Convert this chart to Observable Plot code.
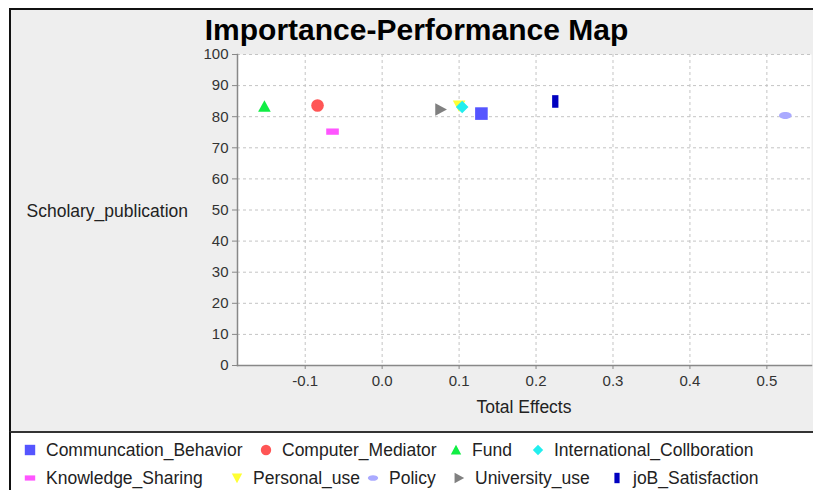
<!DOCTYPE html>
<html>
<head>
<meta charset="utf-8">
<script src="https://cdn.jsdelivr.net/npm/d3@7"></script>
<script src="https://cdn.jsdelivr.net/npm/@observablehq/plot@0.6"></script>
<style>
  html, body { margin: 0; padding: 0; background: #ffffff; overflow: hidden; width: 813px; height: 490px; }
  body { position: relative; font-family: "Liberation Sans", Arial, sans-serif; }
  #frame { position: absolute; left: 9px; top: 8px; width: 830px; height: 500px; background: #eeeeee;
           border-left: 2px solid #111; border-top: 2px solid #111; }
  #title { position: absolute; left: 0; width: 833px; top: 15px; text-align: center; font-size: 30px;
           font-weight: bold; line-height: 30px; color: #000; }
  #chart { position: absolute; left: 0; top: 0; }
  #ylabel { position: absolute; right: 625px; top: 201px; font-size: 17.5px; line-height: 20px; color: #222; white-space: nowrap; }
  #xlabel { position: absolute; left: 237px; width: 574px; top: 397px; text-align: center; font-size: 17.5px; line-height: 20px; color: #222; }
  #legend { position: absolute; left: 9px; top: 431px; width: 830px; height: 70px; background: #fff;
            border-left: 2px solid #111; border-top: 2px solid #333; }
  .item { position: absolute; display: flex; align-items: center; white-space: nowrap; font-size: 17.5px; color: #222; line-height: 20px; }
  .item svg { margin-right: 10px; }
</style>
</head>
<body>
<div id="frame"></div>
<div id="title">Importance-Performance Map</div>
<div id="chart"></div>
<div id="ylabel">Scholary_publication</div>
<div id="xlabel">Total Effects</div>
<div id="legend"></div>
<script>
// ---- data ----
const seriesNames = ["Communcation_Behavior", "Computer_Mediator", "Fund", "International_Collboration",
  "Knowledge_Sharing", "Personal_use", "Policy", "University_use", "joB_Satisfaction"];
const totalEffects = [0.129, -0.084, -0.153, 0.104, -0.0645, 0.100, 0.524, 0.076, 0.225];
const performance = [81.0, 83.6, 83.3, 83.1, 75.2, 83.5, 80.4, 82.3, 84.9];
const seriesColors = ["#5555ff", "#ff5555", "#11ee44", "#22eeee", "#ff55ff", "#ffff33", "#aaaaff", "#808080", "#0000c0"];
const seriesShapes = ["square", "circle", "triangleUp", "diamond", "hrect", "triangleDown", "ellipse", "triangleRight", "vrect"];
const xTicks = [-0.1, 0.0, 0.1, 0.2, 0.3, 0.4, 0.5];
const yTicks = [0, 10, 20, 30, 40, 50, 60, 70, 80, 90, 100];

// ---- symbols ----
function makeSymbol(kind) {
  return {
    draw(ctx, size) {
      const r = Math.sqrt(size / Math.PI);
      const h = r / 2;
      switch (kind) {
        case "square": ctx.rect(-r, -r, 2 * r, 2 * r); break;
        case "circle": ctx.moveTo(r, 0); ctx.arc(0, 0, r, 0, 2 * Math.PI); break;
        case "triangleUp": ctx.moveTo(0, -r); ctx.lineTo(r, r * 0.85); ctx.lineTo(-r, r * 0.85); ctx.closePath(); break;
        case "triangleDown": ctx.moveTo(-r, -r * 0.85); ctx.lineTo(r, -r * 0.85); ctx.lineTo(0, r); ctx.closePath(); break;
        case "triangleRight": ctx.moveTo(-r * 0.85, -r); ctx.lineTo(r, 0); ctx.lineTo(-r * 0.85, r); ctx.closePath(); break;
        case "diamond": ctx.moveTo(0, -r); ctx.lineTo(r, 0); ctx.lineTo(0, r); ctx.lineTo(-r, 0); ctx.closePath(); break;
        case "hrect": ctx.rect(-r, -h, 2 * r, 2 * h); break;
        case "vrect": ctx.rect(-h, -r, 2 * h, 2 * r); break;
        case "ellipse": {
          const k = 0.5523, rx = r, ry = h * 1.1;
          ctx.moveTo(rx, 0);
          ctx.bezierCurveTo(rx, ry * k, rx * k, ry, 0, ry);
          ctx.bezierCurveTo(-rx * k, ry, -rx, ry * k, -rx, 0);
          ctx.bezierCurveTo(-rx, -ry * k, -rx * k, -ry, 0, -ry);
          ctx.bezierCurveTo(rx * k, -ry, rx, -ry * k, rx, 0);
          ctx.closePath();
          break;
        }
      }
    }
  };
}

const rows = seriesNames.map((name, i) => ({name, x: totalEffects[i], y: performance[i], color: seriesColors[i], shape: seriesShapes[i]}));

// JFreeChart-like reverse rendering order: first series on top
const dotMarks = rows.slice().reverse().map(d =>
  Plot.dot([d], {x: "x", y: "y", fill: d.color, symbol: makeSymbol(d.shape), r: 6.3, stroke: "none"})
);

const chart = Plot.plot({
  width: 813,
  height: 432,
  marginLeft: 237,
  marginRight: 2,
  marginTop: 54,
  marginBottom: 67,
  style: {background: "transparent", fontFamily: "Liberation Sans, Arial, sans-serif", fontSize: "15px", color: "#333", overflow: "visible"},
  x: {domain: [-0.188, 0.558]},
  y: {domain: [0, 100]},
  marks: [
    Plot.frame({fill: "white", stroke: "none"}),
    Plot.gridX(xTicks, {stroke: "#c4c4c4", strokeOpacity: 1, strokeDasharray: "3,3"}),
    Plot.gridY(yTicks, {stroke: "#c4c4c4", strokeOpacity: 1, strokeDasharray: "3,3"}),
    Plot.frame({anchor: "left", stroke: "#888", strokeWidth: 1.5}),
    Plot.frame({anchor: "bottom", stroke: "#888", strokeWidth: 1.5}),
    Plot.axisX(xTicks, {tickFormat: d => d.toFixed(1), tickSize: 4, tickPadding: 6, stroke: "#888", label: null, fontSize: 15}),
    Plot.axisY(yTicks, {tickFormat: d => String(d), tickSize: 5, tickPadding: 4, stroke: "#888", label: null, fontSize: 15}),
    ...dotMarks
  ]
});
document.getElementById("chart").appendChild(chart);

// ---- legend (layout: two rows, item symbol centres as in the original) ----
const legend = document.getElementById("legend");
const legendLayout = [
  {top: 7, xs: [30, 266, 456, 538], from: 0},
  {top: 35, xs: [30, 237, 373, 459, 617], from: 4}
];
legendLayout.forEach(row => {
  row.xs.forEach((cx, j) => {
    const d = rows[row.from + j];
    const item = document.createElement("div");
    item.className = "item";
    item.style.top = row.top + "px";
    item.style.left = (cx - 6 - 11) + "px";
    const p = d3.path();
    makeSymbol(d.shape).draw(p, 5.2 * 5.2 * Math.PI);
    const svg = d3.create("svg").attr("width", 12).attr("height", 12).attr("viewBox", "-6 -6 12 12");
    svg.append("path").attr("d", p.toString()).attr("fill", d.color);
    item.appendChild(svg.node());
    const span = document.createElement("span");
    span.textContent = d.name;
    item.appendChild(span);
    legend.appendChild(item);
  });
});
</script>
</body>
</html>
